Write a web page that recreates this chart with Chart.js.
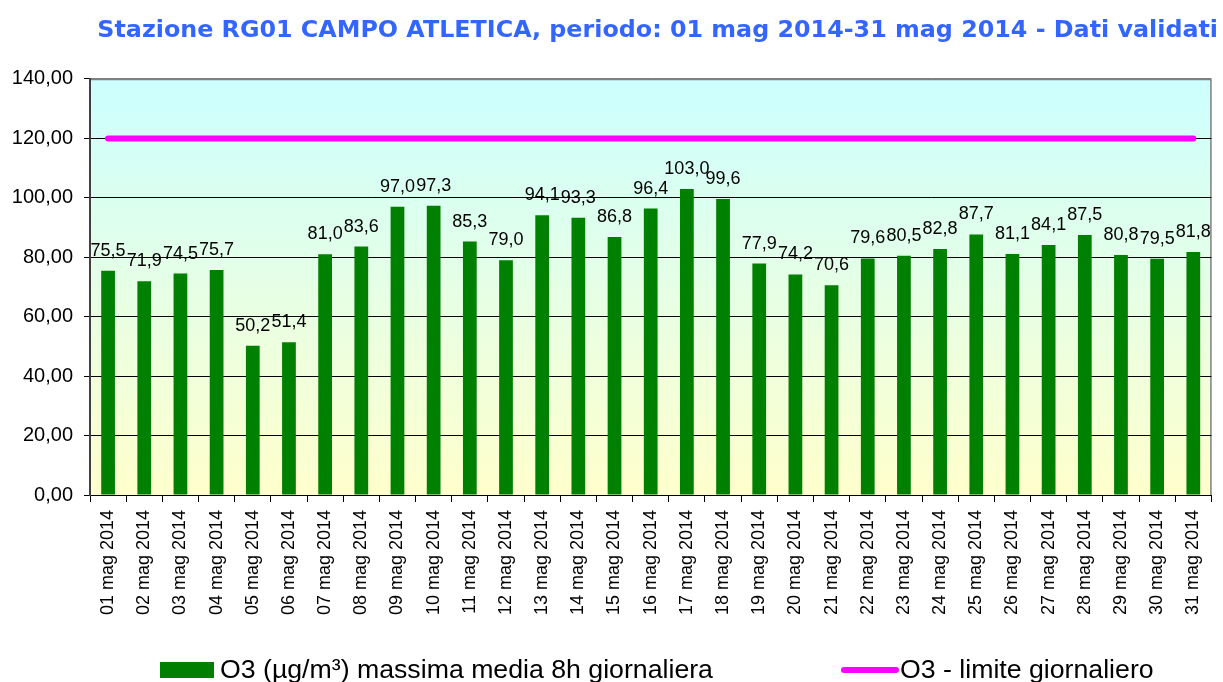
<!DOCTYPE html>
<html>
<head>
<meta charset="utf-8">
<script src="https://cdn.jsdelivr.net/npm/chart.js@4/dist/chart.umd.min.js"></script>
<style>
  html, body { margin: 0; padding: 0; background: #fff; overflow: hidden; }
  #wrap { position: relative; width: 1223px; height: 682px; }
  #legend { position: absolute; left: 0; top: 0; width: 1223px; height: 682px; pointer-events: none;
            font-family: "Liberation Sans", Arial, sans-serif; font-size: 26.7px; color: #000; }
  .lg-item { position: absolute; top: 654px; height: 30px; line-height: 30px; white-space: nowrap; }
  .lg-box { position: absolute; }
  .lg-text { position: absolute; top: 0; }
</style>
</head>
<body>
<div id="wrap">
  <canvas id="c" width="1223" height="682"></canvas>
  <div id="legend"></div>
</div>
<script>
const categories = [
  "01 mag 2014","02 mag 2014","03 mag 2014","04 mag 2014","05 mag 2014","06 mag 2014",
  "07 mag 2014","08 mag 2014","09 mag 2014","10 mag 2014","11 mag 2014","12 mag 2014",
  "13 mag 2014","14 mag 2014","15 mag 2014","16 mag 2014","17 mag 2014","18 mag 2014",
  "19 mag 2014","20 mag 2014","21 mag 2014","22 mag 2014","23 mag 2014","24 mag 2014",
  "25 mag 2014","26 mag 2014","27 mag 2014","28 mag 2014","29 mag 2014","30 mag 2014",
  "31 mag 2014"
];
const o3Values = [
  75.5, 71.9, 74.5, 75.7, 50.2, 51.4, 81.0, 83.6, 97.0, 97.3,
  85.3, 79.0, 94.1, 93.3, 86.8, 96.4, 103.0, 99.6, 77.9, 74.2,
  70.6, 79.6, 80.5, 82.8, 87.7, 81.1, 84.1, 87.5, 80.8, 79.5, 81.8
];
const limitValues = [
  120, 120, 120, 120, 120, 120, 120, 120, 120, 120,
  120, 120, 120, 120, 120, 120, 120, 120, 120, 120,
  120, 120, 120, 120, 120, 120, 120, 120, 120, 120, 120
];
const yTicks = [0, 20, 40, 60, 80, 100, 120, 140];
const seriesNames = ["O3 (\u00b5g/m\u00b3) massima media 8h giornaliera", "O3 - limite giornaliero"];
const titleText = "Stazione RG01 CAMPO ATLETICA, periodo: 01 mag 2014-31 mag 2014 - Dati validati";

const fmt = (v, d) => v.toFixed(d).replace('.', ',');

const bgPlugin = {
  id: 'plotBg',
  beforeDraw(chart) {
    const {ctx, chartArea: a} = chart;
    ctx.save();
    const g = ctx.createLinearGradient(0, a.top, 0, a.bottom);
    g.addColorStop(0, '#CCFFFF');
    g.addColorStop(1, '#FFFFCC');
    ctx.fillStyle = g;
    ctx.fillRect(a.left, a.top, a.right - a.left, a.bottom - a.top);
    ctx.strokeStyle = '#808080';
    ctx.lineWidth = 1.5;
    ctx.beginPath();
    ctx.moveTo(a.left, a.top + 0.5);
    ctx.lineTo(a.right - 0.5, a.top + 0.5);
    ctx.lineTo(a.right - 0.5, a.bottom);
    ctx.stroke();
    ctx.restore();
  }
};

const valueLabels = {
  id: 'valueLabels',
  afterDatasetsDraw(chart) {
    const {ctx} = chart;
    const meta = chart.getDatasetMeta(0);
    ctx.save();
    ctx.font = '18px "Liberation Sans", Arial, sans-serif';
    ctx.fillStyle = '#000';
    ctx.textAlign = 'center';
    ctx.textBaseline = 'alphabetic';
    meta.data.forEach((bar, i) => {
      const v = chart.data.datasets[0].data[i];
      ctx.fillText(fmt(v, 1), bar.x, bar.y - 15);
    });
    ctx.restore();
  }
};

const htmlLegend = {
  id: 'htmlLegend',
  afterUpdate(chart) {
    const box = document.getElementById('legend');
    box.innerHTML = '';
    const items = Chart.defaults.plugins.legend.labels.generateLabels(chart)
      .sort((a, b) => a.datasetIndex - b.datasetIndex);
    const pos = [{box: 160, text: 220}, {box: 841, text: 900}];
    items.forEach((it) => {
      const i = it.datasetIndex;
      const ds = chart.data.datasets[i];
      const el = document.createElement('div');
      el.className = 'lg-item';
      el.style.left = pos[i].box + 'px';
      const sw = document.createElement('span');
      sw.className = 'lg-box';
      if (ds.type === 'bar') {
        sw.style.left = '0px'; sw.style.top = '8px';
        sw.style.width = '54px'; sw.style.height = '16px';
        sw.style.background = ds.backgroundColor;
      } else {
        sw.style.left = '0px'; sw.style.top = '13px';
        sw.style.width = '58px'; sw.style.height = '6px';
        sw.style.borderRadius = '3px';
        sw.style.background = ds.borderColor;
      }
      const tx = document.createElement('span');
      tx.className = 'lg-text';
      tx.style.left = (pos[i].text - pos[i].box) + 'px';
      tx.textContent = it.text;
      el.appendChild(sw); el.appendChild(tx);
      box.appendChild(el);
    });
  }
};

new Chart(document.getElementById('c'), {
  data: {
    labels: categories,
    datasets: [
      {
        type: 'bar',
        label: seriesNames[0],
        data: o3Values,
        backgroundColor: '#008000',
        borderWidth: 0,
        categoryPercentage: 1.0,
        barPercentage: 0.38
      },
      {
        type: 'line',
        label: seriesNames[1],
        data: limitValues,
        borderColor: '#FF00FF',
        backgroundColor: '#FF00FF',
        borderWidth: 6,
        borderCapStyle: 'round',
        pointRadius: 0,
        fill: false
      }
    ]
  },
  options: {
    responsive: false,
    devicePixelRatio: 1,
    animation: false,
    layout: { padding: { left: 0, right: 5, top: 0, bottom: 0 } },
    plugins: {
      legend: { display: false },
      tooltip: { enabled: false },
      title: {
        display: true,
        text: titleText,
        align: 'end',
        color: '#3366FF',
        font: { family: '"DejaVu Sans", sans-serif', size: 23.8, weight: 'bold', lineHeight: 1.2 },
        padding: { top: 17, bottom: 33.4 }
      }
    },
    scales: {
      x: {
        type: 'category',
        grid: { offset: true, drawOnChartArea: false, drawTicks: true, tickLength: 7, color: '#000', tickColor: '#000' },
        border: { color: '#000', width: 1 },
        ticks: {
          maxRotation: 90, minRotation: 90, autoSkip: false, padding: 8,
          color: '#000',
          font: { family: '"Liberation Sans", Arial, sans-serif', size: 18 }
        },
        afterFit(scale) { scale.height = 187; }
      },
      y: {
        min: 0, max: 140,
        afterBuildTicks(scale) { scale.ticks = yTicks.map(v => ({value: v})); },
        grid: {
          color: (c) => c.tick && c.tick.value === 140 ? '#808080' : '#000',
          lineWidth: 1, drawTicks: true, tickLength: 6, tickColor: '#000'
        },
        border: { color: '#404040', width: 2 },
        ticks: {
          padding: 11, color: '#000',
          font: { family: '"Liberation Sans", Arial, sans-serif', size: 20 },
          callback: (v) => fmt(v, 2)
        },
        afterFit(scale) { scale.width = 90; }
      }
    }
  },
  plugins: [bgPlugin, valueLabels, htmlLegend]
});
</script>
</body>
</html>
